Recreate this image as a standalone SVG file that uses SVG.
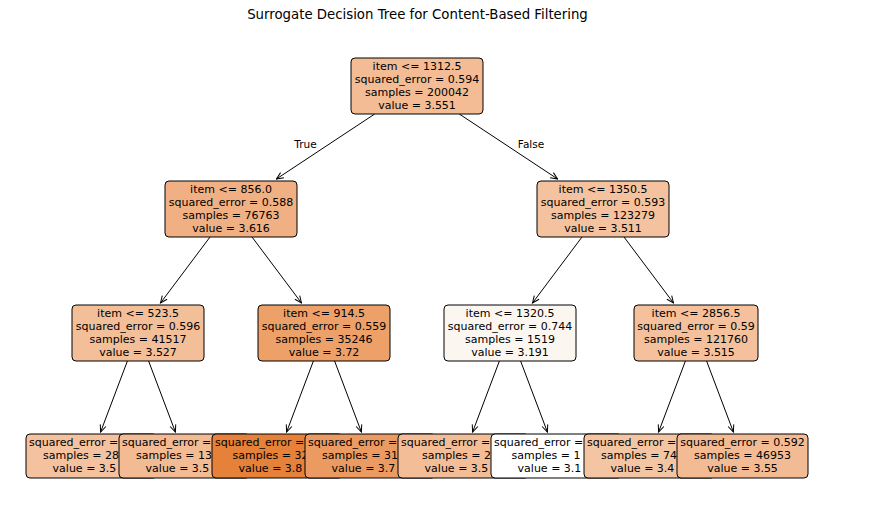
<svg xmlns="http://www.w3.org/2000/svg" width="889" height="515" viewBox="0 0 889 515">
<style>
text{font-family:"DejaVu Sans","Liberation Sans",sans-serif;fill:#000}
.t{font-size:11px;text-anchor:middle}
.l{font-size:11px;text-anchor:start}
.e{font-size:10.5px;text-anchor:middle}
.title{font-size:13.3px;text-anchor:middle}
rect.n{stroke:#000;stroke-width:1}
.edge line{stroke:#000;stroke-width:1;fill:none}
</style>
<defs>
<marker id="arr" viewBox="-8 -4 9 8" refX="0" refY="0" markerWidth="9" markerHeight="8" markerUnits="userSpaceOnUse" orient="auto">
<path d="M-7,-3 L0,0 L-7,3" fill="none" stroke="#000" stroke-width="1"/>
</marker>
</defs>
<rect x="0" y="0" width="889" height="515" fill="#fff" stroke="none"/>
<text class="title" x="417.5" y="19">Surrogate Decision Tree for Content-Based Filtering</text>

<g class="edge" id="connectors">
<line x1="374.7" y1="114" x2="276.4" y2="179" marker-end="url(#arr)"/>
<line x1="459.3" y1="114" x2="557.6" y2="179" marker-end="url(#arr)"/>
<line x1="210" y1="237" x2="160.5" y2="303" marker-end="url(#arr)"/>
<line x1="252" y1="237" x2="301.5" y2="303" marker-end="url(#arr)"/>
<line x1="582" y1="237" x2="532.5" y2="303" marker-end="url(#arr)"/>
<line x1="624" y1="237" x2="673.5" y2="303" marker-end="url(#arr)"/>
<line x1="127.4" y1="361" x2="100.6" y2="432" marker-end="url(#arr)"/>
<line x1="148.6" y1="361" x2="175.4" y2="432" marker-end="url(#arr)"/>
<line x1="313.4" y1="361" x2="286.6" y2="432" marker-end="url(#arr)"/>
<line x1="334.6" y1="361" x2="361.4" y2="432" marker-end="url(#arr)"/>
<line x1="499.4" y1="361" x2="472.6" y2="432" marker-end="url(#arr)"/>
<line x1="520.6" y1="361" x2="547.4" y2="432" marker-end="url(#arr)"/>
<line x1="685.4" y1="361" x2="658.6" y2="432" marker-end="url(#arr)"/>
<line x1="706.6" y1="361" x2="733.4" y2="432" marker-end="url(#arr)"/>
<text class="e" x="305.5" y="148">True</text>
<text class="e" x="531" y="148">False</text>
</g>

<g id="n0">
<rect class="n" x="351" y="58" width="132" height="56" rx="4" fill="#f3bc94"/>
<text class="t" x="417" y="70">item &lt;= 1312.5</text>
<text class="t" x="417" y="83">squared_error = 0.594</text>
<text class="t" x="417" y="96">samples = 200042</text>
<text class="t" x="417" y="109">value = 3.551</text>
</g>
<g id="n1">
<rect class="n" x="165" y="181" width="132" height="56" rx="4" fill="#f1b083"/>
<text class="t" x="231" y="193">item &lt;= 856.0</text>
<text class="t" x="231" y="206">squared_error = 0.588</text>
<text class="t" x="231" y="219">samples = 76763</text>
<text class="t" x="231" y="232">value = 3.616</text>
</g>
<g id="n2">
<rect class="n" x="537" y="181" width="132" height="56" rx="4" fill="#f4c29e"/>
<text class="t" x="603" y="193">item &lt;= 1350.5</text>
<text class="t" x="603" y="206">squared_error = 0.593</text>
<text class="t" x="603" y="219">samples = 123279</text>
<text class="t" x="603" y="232">value = 3.511</text>
</g>
<g id="n3">
<rect class="n" x="72" y="305" width="132" height="56" rx="4" fill="#f3bf99"/>
<text class="t" x="138" y="317">item &lt;= 523.5</text>
<text class="t" x="138" y="330">squared_error = 0.596</text>
<text class="t" x="138" y="343">samples = 41517</text>
<text class="t" x="138" y="356">value = 3.527</text>
</g>
<g id="n4">
<rect class="n" x="258" y="305" width="132" height="56" rx="4" fill="#eda068"/>
<text class="t" x="324" y="317">item &lt;= 914.5</text>
<text class="t" x="324" y="330">squared_error = 0.559</text>
<text class="t" x="324" y="343">samples = 35246</text>
<text class="t" x="324" y="356">value = 3.72</text>
</g>
<g id="n5">
<rect class="n" x="444" y="305" width="132" height="56" rx="4" fill="#fcf6f1"/>
<text class="t" x="510" y="317">item &lt;= 1320.5</text>
<text class="t" x="510" y="330">squared_error = 0.744</text>
<text class="t" x="510" y="343">samples = 1519</text>
<text class="t" x="510" y="356">value = 3.191</text>
</g>
<g id="n6">
<rect class="n" x="634" y="305" width="124" height="56" rx="4" fill="#f4c19c"/>
<text class="t" x="696" y="317">item &lt;= 2856.5</text>
<text class="t" x="696" y="330">squared_error = 0.59</text>
<text class="t" x="696" y="343">samples = 121760</text>
<text class="t" x="696" y="356">value = 3.515</text>
</g>

<g id="leaf1">
<rect class="n" x="26" y="434" width="131" height="44" rx="4" fill="#f4c29f"/>
<text class="l" x="29" y="446">squared_error =</text>
<text class="l" x="43.1" y="459">samples = 28</text>
<text class="l" x="52.6" y="472">value = 3.5</text>
</g>
<g id="leaf2">
<rect class="n" x="119" y="434" width="131" height="44" rx="4" fill="#f2bb93"/>
<text class="l" x="122" y="446">squared_error =</text>
<text class="l" x="136.1" y="459">samples = 13</text>
<text class="l" x="145.6" y="472">value = 3.5</text>
</g>
<g id="leaf3">
<rect class="n" x="212" y="434" width="131" height="44" rx="4" fill="#e58139"/>
<text class="l" x="215" y="446">squared_error =</text>
<text class="l" x="232.5" y="459">samples = 32</text>
<text class="l" x="238.6" y="472">value = 3.8</text>
</g>
<g id="leaf4">
<rect class="n" x="305" y="434" width="131" height="44" rx="4" fill="#eb9b61"/>
<text class="l" x="308" y="446">squared_error =</text>
<text class="l" x="322.1" y="459">samples = 31</text>
<text class="l" x="331.6" y="472">value = 3.7</text>
</g>
<g id="leaf5">
<rect class="n" x="398" y="434" width="131" height="44" rx="4" fill="#f3be97"/>
<text class="l" x="401" y="446">squared_error =</text>
<text class="l" x="422" y="459">samples = 2</text>
<text class="l" x="424.6" y="472">value = 3.5</text>
</g>
<g id="leaf6">
<rect class="n" x="491" y="434" width="131" height="44" rx="4" fill="#ffffff"/>
<text class="l" x="494" y="446">squared_error =</text>
<text class="l" x="511.5" y="459">samples = 1</text>
<text class="l" x="517.6" y="472">value = 3.1</text>
</g>
<g id="leaf7">
<rect class="n" x="584" y="434" width="131" height="44" rx="4" fill="#f4c5a2"/>
<text class="l" x="587" y="446">squared_error =</text>
<text class="l" x="601.1" y="459">samples = 74</text>
<text class="l" x="610.6" y="472">value = 3.4</text>
</g>
<g id="leaf8">
<rect class="n" x="677" y="434" width="131" height="44" rx="4" fill="#f2bb94"/>
<text class="t" x="742.5" y="446">squared_error = 0.592</text>
<text class="t" x="742.5" y="459">samples = 46953</text>
<text class="t" x="742.5" y="472">value = 3.55</text>
</g>
</svg>
